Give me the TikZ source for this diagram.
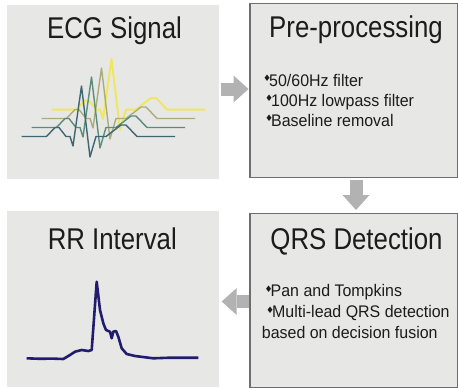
\documentclass[tikz,border=0pt]{standalone}
\usepackage{fontspec}
\setmainfont{Liberation Sans}
\newfontfamily\titlefont[FakeStretch=0.86]{Liberation Sans}
\newfontfamily\itemfont[FakeStretch=0.95]{Liberation Sans}
\newfontfamily\symfont{DejaVu Sans}
\usetikzlibrary{arrows.meta,calc}
\definecolor{boxfill}{HTML}{E7E7E5}
\definecolor{boxline}{HTML}{6E6E6E}
\definecolor{arrowgray}{HTML}{B2B2B2}
\definecolor{txt}{HTML}{1C1C1C}
\definecolor{leadA}{HTML}{3D6672}
\definecolor{leadB}{HTML}{5B8C7C}
\definecolor{leadC}{HTML}{A9AD7C}
\definecolor{leadD}{HTML}{EFE760}
\definecolor{rrline}{HTML}{221C6E}
\newcommand{\dbul}{\makebox[6pt][l]{\raisebox{4.6pt}{\symfont\fontsize{9}{9}\selectfont ♦}}}
\tikzset{
  plainbox/.style={fill=boxfill, inner sep=0pt, outer sep=0pt},
  framebox/.style={fill=boxfill, draw=boxline, line width=1.2pt, inner sep=0pt, outer sep=0pt},
  titletext/.style={font=\titlefont\fontsize{30}{36}\selectfont, text=txt, inner sep=0pt, anchor=base},
  itemtext/.style={font=\itemfont\fontsize{16.8}{20}\selectfont, text=txt, inner sep=0pt, anchor=base west},
  blockarrow/.style={draw=arrowgray, line width=13pt, -{Triangle[length=15pt,width=27pt,line width=0pt]}},
  leadline/.style={line width=1.4pt, line join=round}
}
\begin{document}
\begin{tikzpicture}[x=1pt,y=-1pt]
\useasboundingbox (0,0) rectangle (458,388);
\fill[white] (0,0) rectangle (458,388);

% boxes
\node[plainbox, minimum width=212pt, minimum height=173.5pt] (ecg) at (113,91.75) {};
\node[plainbox, minimum width=212pt, minimum height=176pt] (rr) at (113,298.7) {};
\node[framebox, minimum width=207.5pt, minimum height=174pt] (pre) at (353.75,90.3) {};
\node[framebox, minimum width=207.5pt, minimum height=174pt] (qrs) at (353.75,300.3) {};

% arrows
\draw[blockarrow, shorten <=1.7pt, shorten >=1.5pt] (ecg.east |- 0,89) -- (pre.west |- 0,89);
\draw[blockarrow, shorten <=2.7pt, shorten >=3.3pt] (pre.south -| 356,0) -- (qrs.north -| 356,0);
\draw[blockarrow, shorten <=1.4pt, shorten >=2.7pt] (qrs.west |- 0,301.5) -- (rr.east |- 0,301.5);

% titles
\node[titletext] (ecgt) at (114.5,38.3) {ECG Signal};
\node[titletext] (pret) at (356,37) {Pre-processing};
\node[titletext] (qrst) at (356.5,249) {QRS Detection};
\node[titletext] (rrt) at (112.3,249) {RR Interval};

% items
\node[itemtext] (p1) at (263,86.5) {\dbul 50/60Hz filter};
\node[itemtext] (p2) at (265,106.3) {\dbul 100Hz lowpass filter};
\node[itemtext] (p3) at (265,126) {\dbul Baseline removal};
\node[itemtext] (q1) at (264.5,296.7) {\dbul Pan and Tompkins};
\node[itemtext] (q2) at (266,317.7) {\dbul Multi-lead QRS detection};
\node[itemtext] (q3) at (261.7,338.3) {based on decision fusion};

% ECG leads
\foreach \k/\col/\lw in {3/leadD/2.0, 2/leadC/1.4, 1/leadB/1.4, 0/leadA/1.4}{
  \begin{scope}[shift={(10*\k,-9*\k)}]
    \draw[leadline, draw=\col, line width=\lw pt]
      (21.5,136.5) -- (46.5,136.5) -- (55,127.5) -- (59,127.5) -- (66,136.5)
      -- (70,136.5) -- (73,146) -- (81.5,86) -- (90,157) -- (96,136.5)
      -- (106,136.5) -- (121,125) -- (126,125) -- (137,136.5) -- (175,136.5);
  \end{scope}
}

% RR trace
\draw[rrline, line width=2.6pt, line join=round]
  (26.7,358.3) -- (40,358.8) -- (52,358.6) -- (63.3,359) -- (70,355) -- (75,351.7)
  -- (81.7,350) -- (88.3,351) -- (91.7,350) -- (96.7,281.7) -- (100,310)
  -- (103.3,323.3) -- (106,330) -- (110,331.7) -- (111.7,338.3) -- (113.3,331.7)
  -- (116,331) -- (118.3,336.7) -- (121.7,348.3) -- (126.7,354) -- (135,356)
  -- (153.3,358.3) -- (170,357.7) -- (198.3,357.7);
\end{tikzpicture}
\end{document}
